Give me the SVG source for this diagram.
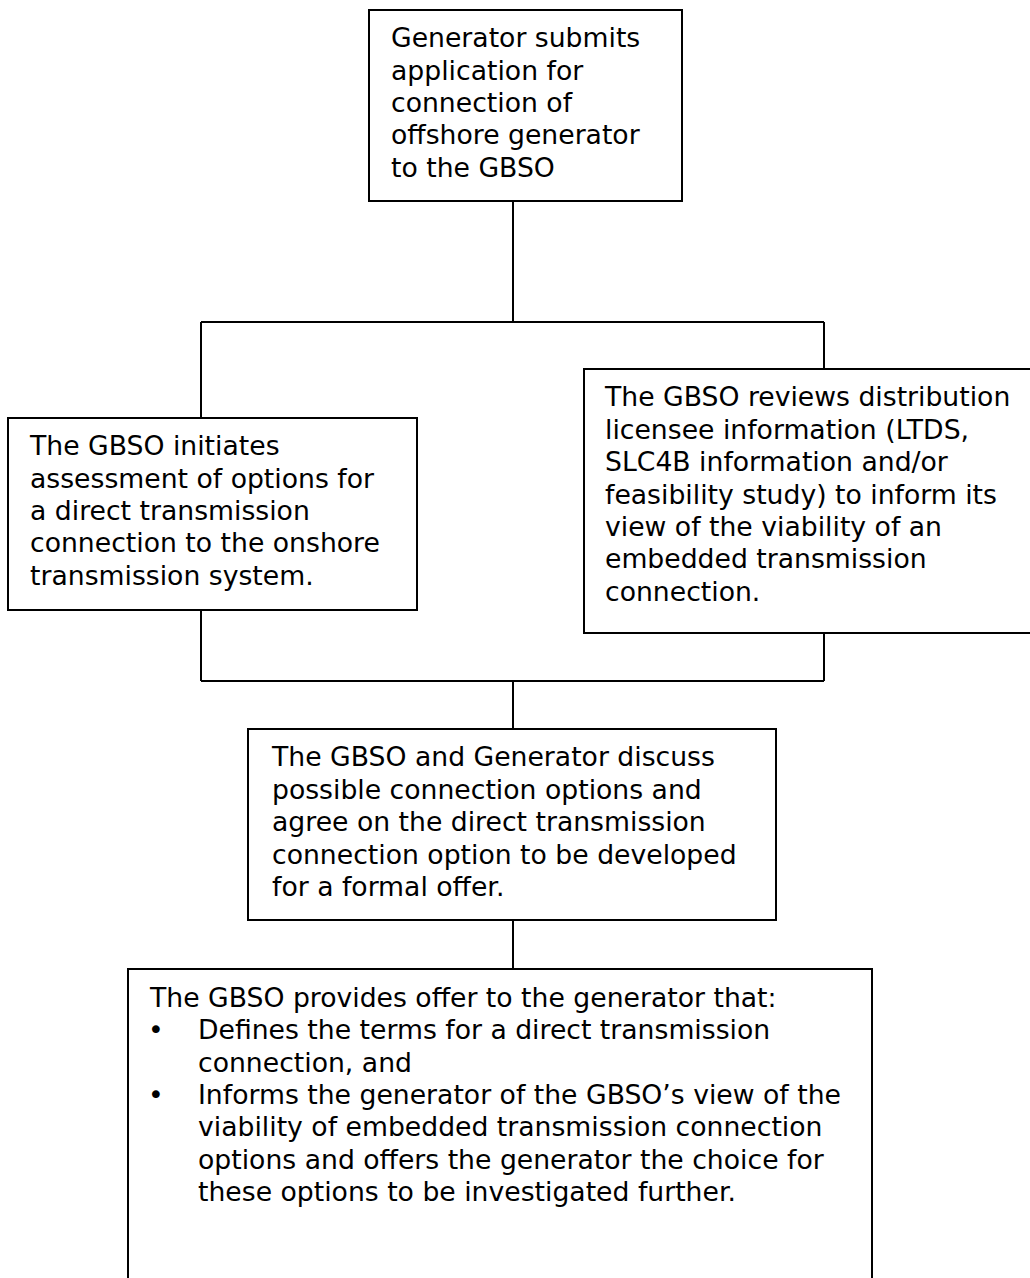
<svg xmlns="http://www.w3.org/2000/svg" width="1030" height="1278" viewBox="0 0 1030 1278">
<style>
.box{fill:#fff;stroke:#000;stroke-width:2}
.conn{fill:none;stroke:#000;stroke-width:2}
text{font-family:"DejaVu Sans","Liberation Sans",sans-serif;font-size:26.67px;fill:#000}
</style>
<rect width="1030" height="1278" fill="#fff"/>
<g id="connectors">
<path class="conn" d="M513 201V322M201 322H824M201 322V418M824 322V369"/>
<path class="conn" d="M201 610V681M824 633V681M201 681H824M513 681V729"/>
<path class="conn" d="M513 920V969"/>
</g>
<g id="n1">
<rect class="box" x="369" y="10" width="313" height="191"/>
<text x="391" y="47">Generator submits</text>
<text x="391" y="79.5">application for</text>
<text x="391" y="112">connection of</text>
<text x="391" y="144">offshore generator</text>
<text x="391" y="177">to the GBSO</text>
</g>
<g id="n2">
<rect class="box" x="8" y="418" width="409" height="192"/>
<text x="30" y="455">The GBSO initiates</text>
<text x="30" y="488">assessment of options for</text>
<text x="30" y="520">a direct transmission</text>
<text x="30" y="552">connection to the onshore</text>
<text x="30" y="585">transmission system.</text>
</g>
<g id="n3">
<rect class="box" x="584" y="369" width="450" height="264"/>
<text x="605" y="406">The GBSO reviews distribution</text>
<text x="605" y="439">licensee information (LTDS,</text>
<text x="605" y="471">SLC4B information and/or</text>
<text x="605" y="504">feasibility study) to inform its</text>
<text x="605" y="536">view of the viability of an</text>
<text x="605" y="568">embedded transmission</text>
<text x="605" y="601">connection.</text>
</g>
<g id="n4">
<rect class="box" x="248" y="729" width="528" height="191"/>
<text x="272" y="766">The GBSO and Generator discuss</text>
<text x="272" y="799">possible connection options and</text>
<text x="272" y="831">agree on the direct transmission</text>
<text x="272" y="864">connection option to be developed</text>
<text x="272" y="896">for a formal offer.</text>
</g>
<g id="n5">
<rect class="box" x="128" y="969" width="744" height="330"/>
<text x="150" y="1007">The GBSO provides offer to the generator that:</text>
<text x="148" y="1039">•</text>
<text x="198" y="1039">Defines the terms for a direct transmission</text>
<text x="198" y="1072">connection, and</text>
<text x="148" y="1104">•</text>
<text x="198" y="1104">Informs the generator of the GBSO’s view of the</text>
<text x="198" y="1136">viability of embedded transmission connection</text>
<text x="198" y="1169">options and offers the generator the choice for</text>
<text x="198" y="1201">these options to be investigated further.</text>
</g>
</svg>
